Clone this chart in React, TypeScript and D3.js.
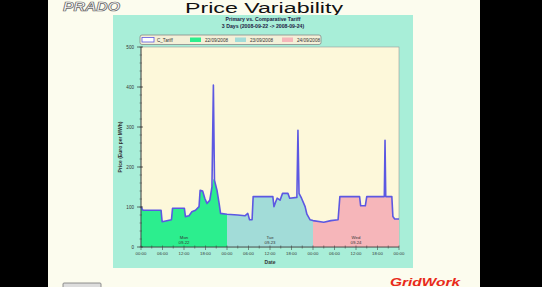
import React from "react";
import * as d3 from "d3";

// ---- data ----
const hours = [0, 0.5, 5.6, 5.9, 8.5, 8.8, 12.1, 12.4, 13.4, 14.2, 15.2, 16.2, 16.5, 17.2, 17.8, 18.4, 19.2, 19.8, 20.2, 20.5, 21.2, 21.8, 22.2,
  24, 27, 29, 29.8, 30.3, 31, 31.3, 36.8, 37.1, 37.6, 38, 38.8, 39.5, 41, 41.5, 43.5, 43.8, 44.1, 44.8, 45.8, 46.3, 47.2,
  48, 51, 53, 55, 55.5, 61, 61.3, 62.6, 63, 67.9, 68.1, 68.3, 70, 70.3, 70.8, 72];
const tariffValues = [101, 92, 92, 63, 68, 97, 97, 76, 78, 88, 92, 101, 142, 140, 122, 109, 117, 150, 405, 167, 142, 109, 84,
  82, 80, 78, 84, 68, 68, 126, 126, 101, 113, 122, 117, 134, 134, 122, 124, 292, 134, 122, 101, 82, 68,
  66, 62, 66, 68, 126, 126, 103, 103, 126, 126, 267, 126, 126, 76, 70, 70];
const dayAreaValues = [101, 92, 92, 63, 68, 97, 97, 76, 78, 88, 92, 101, 142, 140, 122, 109, 117, 150, 170, 167, 142, 109, 84,
  82, 80, 78, 84, 68, 68, 126, 126, 101, 113, 122, 117, 134, 134, 122, 124, 134, 134, 122, 101, 82, 68,
  66, 62, 66, 68, 126, 126, 103, 103, 126, 126, 126, 126, 126, 76, 70, 70];
const days = ["Mon", "Tue", "Wed"];
const dayDates = ["09-22", "09-23", "09-24"];
const legendLabels = ["C_Tariff", "22/09/2008", "23/09/2008", "24/09/2008"];
const dayColors = ["#2cee8e", "#a2dcd8", "#f6b6ba"];
const yTicks = [0, 100, 200, 300, 400, 500];
const xTickLabels = ["00:00", "06:00", "12:00", "18:00", "00:00", "06:00", "12:00", "18:00", "00:00", "06:00", "12:00", "18:00", "00:00"];

export default function App() {
  const W = 542, H = 287;
  const x = d3.scaleLinear().domain([0, 72]).range([141, 399]);
  const y = d3.scaleLinear().domain([0, 500]).range([247, 47]);
  const pts = hours.map((h, i) => ({ h, v: tariffValues[i], a: dayAreaValues[i] }));
  const line = d3.line<any>().x(d => x(d.h)).y(d => y(d.v));
  const area = d3.area<any>().x(d => x(d.h)).y0(y(0)).y1(d => y(d.a));
  const minor = d3.range(0, 501, 20);
  const xMinor = d3.range(0, 73, 3);
  const font = "Liberation Sans, Arial, sans-serif";
  const lineColor = "#5c58e2";
  const legendX = [142, 190, 235, 282];
  return (
    <svg width={W} height={H} style={{ position: "absolute", left: 0, top: 0 }} fontFamily={font}>
      <defs>
        {days.map((d, i) => (
          <clipPath id={"day" + i} key={d}>
            <rect x={x(i * 24)} y={0} width={x(24) - x(0)} height={H} />
          </clipPath>
        ))}
      </defs>
      <rect x={0} y={0} width={W} height={H} fill="#000" />
      <rect x={48} y={0} width={432} height={H} fill="#fcfcee" />
      {/* header */}
      <text x={63} y={10.5} fontSize={13} fontWeight="bold" fontStyle="italic" fill="#fff" stroke="#666" strokeWidth={0.7} textLength={57} lengthAdjust="spacingAndGlyphs">PRADO</text>
      <text x={185} y={13} fontSize={14} fill="#111" textLength={158} lengthAdjust="spacingAndGlyphs">Price Variability</text>
      {/* panel */}
      <rect x={113} y={15} width={300} height={253} fill="#a8eed8" />
      <text x={263} y={21} fontSize={5.2} fontWeight="bold" textAnchor="middle" fill="#224">Primary vs. Comparative Tariff</text>
      <text x={263} y={28} fontSize={5.2} fontWeight="bold" textAnchor="middle" fill="#224">3 Days (2008-09-22 -&gt; 2008-09-24)</text>
      {/* legend */}
      <rect x={140} y={35} width={181} height={9.5} rx={2} fill="#f4f0d8" stroke="#888" strokeWidth={0.8} />
      {legendLabels.map((l, i) => (
        <g key={l}>
          {i === 0 ? (
            <rect x={legendX[i]} y={37.5} width={12} height={4.5} fill="#fff" stroke={lineColor} strokeWidth={0.8} />
          ) : (
            <rect x={legendX[i]} y={37.5} width={11} height={4.5} fill={dayColors[i - 1]} />
          )}
          <text x={legendX[i] + 15} y={41.8} fontSize={4.6} fill="#333">{l}</text>
        </g>
      ))}
      {/* plot */}
      <rect x={141} y={47} width={258} height={200} fill="#fdf8da" stroke="#999" strokeWidth={0.6} />
      {days.map((d, i) => (
        <path key={d} d={area(pts) || ""} fill={dayColors[i]} clipPath={`url(#day${i})`} />
      ))}
      <path d={line(pts) || ""} fill="none" stroke={lineColor} strokeWidth={1.6} strokeLinejoin="round" />
      {days.map((d, i) => (
        <g key={d} fontSize={4.3} textAnchor="middle" fill="#333">
          <text x={x(i * 24 + 12)} y={239}>{d}</text>
          <text x={x(i * 24 + 12)} y={243.5}>{dayDates[i]}</text>
        </g>
      ))}
      {/* y axis */}
      <line x1={141} x2={141} y1={47} y2={247} stroke="#333" strokeWidth={0.8} />
      {minor.map(v => (
        <line key={v} x1={139.5} x2={142} y1={y(v)} y2={y(v)} stroke="#444" strokeWidth={0.5} />
      ))}
      {yTicks.map(v => (
        <g key={v}>
          <line x1={137} x2={143} y1={y(v)} y2={y(v)} stroke="#333" strokeWidth={0.7} />
          <text x={134} y={y(v) + 1.6} fontSize={4.6} textAnchor="end" fill="#333">{v}</text>
        </g>
      ))}
      <text transform={`translate(122,147) rotate(-90)`} fontSize={5} fontWeight="bold" textAnchor="middle" fill="#333">Price (Euro per MWh)</text>
      {/* x axis */}
      <line x1={141} x2={399} y1={247} y2={247} stroke="#333" strokeWidth={0.8} />
      {xMinor.map(h => (
        <line key={h} x1={x(h)} x2={x(h)} y1={245.5} y2={h % 6 === 0 ? 250 : 248.5} stroke="#444" strokeWidth={0.6} />
      ))}
      {xTickLabels.map((l, i) => (
        <text key={i} x={x(i * 6)} y={255} fontSize={4.3} textAnchor="middle" fill="#333">{l}</text>
      ))}
      <text x={270} y={264} fontSize={5} fontWeight="bold" textAnchor="middle" fill="#333">Date</text>
      {/* footer */}
      <rect x={63} y={283} width={38} height={8} rx={1} fill="#ddd" stroke="#777" strokeWidth={0.8} />
      <text x={390} y={285.5} fontSize={10} fontWeight="bold" fontStyle="italic" fill="#e82a1a" textLength={70} lengthAdjust="spacingAndGlyphs">GridWork</text>
    </svg>
  );
}
